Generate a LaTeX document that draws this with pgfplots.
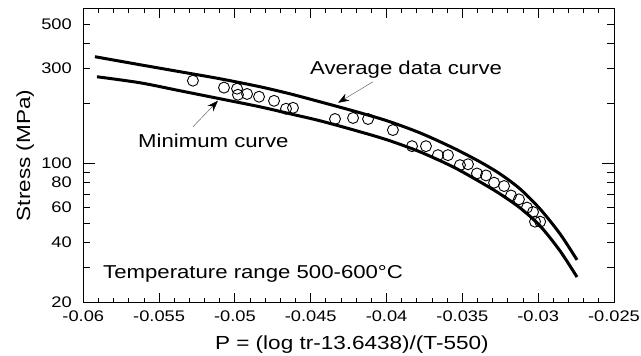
\documentclass[border=0pt]{standalone}
\usepackage{fontspec}
\setmainfont{Liberation Sans}[FakeStretch=1.19]
\usepackage{pgfplots}
\pgfplotsset{compat=1.18}
\usetikzlibrary{arrows.meta}
\begin{document}
\begin{tikzpicture}
\begin{axis}[
  scale only axis,
  width=530.7bp, height=294.4bp,
  xmin=-0.06, xmax=-0.025,
  ymode=log, ymin=20, ymax=600,
  clip=false,
  unbounded coords=jump,
  scaled x ticks=false,
  xtick={-0.06,-0.055,-0.05,-0.045,-0.04,-0.035,-0.03,-0.025},
  xticklabels={-0.06,-0.055,-0.05,-0.045,-0.04,-0.035,-0.03,-0.025},
  ytick={20,40,60,80,100,300,500},
  yticklabels={20,40,60,80,100,300,500},
  major tick length=0pt, minor tick length=0pt,
  tick style={draw=none},
  axis line style={line width=0.9bp},
  tick label style={font=\fontsize{15.4}{18}\selectfont},
  xticklabel style={yshift=-5bp},
  yticklabel style={xshift=-8bp},
  xlabel={P = (log tr-13.6438)/(T-550)},
  ylabel={Stress (MPa)},
  every axis x label/.style={at={(axis description cs:0.506,-0.1573)}, anchor=base, font=\fontsize{19}{22}\selectfont},
  every axis y label/.style={at={(axis description cs:-0.1004,0.5)}, rotate=90, anchor=base, font=\fontsize{19}{22}\selectfont},
]
% tick marks drawn as short segments, inside, on all four sides
\addplot[black, line width=0.9bp, forget plot] coordinates {
(-0.06,20) (-0.06,22.27) (-0.06,nan) (-0.055,20) (-0.055,22.27) (-0.055,nan)
(-0.05,20) (-0.05,22.27) (-0.05,nan) (-0.045,20) (-0.045,22.27) (-0.045,nan)
(-0.04,20) (-0.04,22.27) (-0.04,nan) (-0.035,20) (-0.035,22.27) (-0.035,nan)
(-0.03,20) (-0.03,22.27) (-0.03,nan) (-0.025,20) (-0.025,22.27) (-0.025,nan)
(-0.06,600) (-0.06,538.8) (-0.06,nan) (-0.055,600) (-0.055,538.8) (-0.055,nan)
(-0.05,600) (-0.05,538.8) (-0.05,nan) (-0.045,600) (-0.045,538.8) (-0.045,nan)
(-0.04,600) (-0.04,538.8) (-0.04,nan) (-0.035,600) (-0.035,538.8) (-0.035,nan)
(-0.03,600) (-0.03,538.8) (-0.03,nan) (-0.025,600) (-0.025,538.8)};
\addplot[black, line width=0.9bp, forget plot] coordinates {
(-0.059,20) (-0.059,21.07) (-0.059,nan) (-0.058,20) (-0.058,21.07) (-0.058,nan)
(-0.057,20) (-0.057,21.07) (-0.057,nan) (-0.056,20) (-0.056,21.07) (-0.056,nan)
(-0.054,20) (-0.054,21.07) (-0.054,nan) (-0.053,20) (-0.053,21.07) (-0.053,nan)
(-0.052,20) (-0.052,21.07) (-0.052,nan) (-0.051,20) (-0.051,21.07) (-0.051,nan)
(-0.049,20) (-0.049,21.07) (-0.049,nan) (-0.048,20) (-0.048,21.07) (-0.048,nan)
(-0.047,20) (-0.047,21.07) (-0.047,nan) (-0.046,20) (-0.046,21.07) (-0.046,nan)
(-0.044,20) (-0.044,21.07) (-0.044,nan) (-0.043,20) (-0.043,21.07) (-0.043,nan)
(-0.042,20) (-0.042,21.07) (-0.042,nan) (-0.041,20) (-0.041,21.07) (-0.041,nan)
(-0.039,20) (-0.039,21.07) (-0.039,nan) (-0.038,20) (-0.038,21.07) (-0.038,nan)
(-0.037,20) (-0.037,21.07) (-0.037,nan) (-0.036,20) (-0.036,21.07) (-0.036,nan)
(-0.034,20) (-0.034,21.07) (-0.034,nan) (-0.033,20) (-0.033,21.07) (-0.033,nan)
(-0.032,20) (-0.032,21.07) (-0.032,nan) (-0.031,20) (-0.031,21.07) (-0.031,nan)
(-0.029,20) (-0.029,21.07) (-0.029,nan) (-0.028,20) (-0.028,21.07) (-0.028,nan)
(-0.027,20) (-0.027,21.07) (-0.027,nan) (-0.026,20) (-0.026,21.07) (-0.026,nan)
(-0.059,600) (-0.059,569.6) (-0.059,nan) (-0.058,600) (-0.058,569.6) (-0.058,nan)
(-0.057,600) (-0.057,569.6) (-0.057,nan) (-0.056,600) (-0.056,569.6) (-0.056,nan)
(-0.054,600) (-0.054,569.6) (-0.054,nan) (-0.053,600) (-0.053,569.6) (-0.053,nan)
(-0.052,600) (-0.052,569.6) (-0.052,nan) (-0.051,600) (-0.051,569.6) (-0.051,nan)
(-0.049,600) (-0.049,569.6) (-0.049,nan) (-0.048,600) (-0.048,569.6) (-0.048,nan)
(-0.047,600) (-0.047,569.6) (-0.047,nan) (-0.046,600) (-0.046,569.6) (-0.046,nan)
(-0.044,600) (-0.044,569.6) (-0.044,nan) (-0.043,600) (-0.043,569.6) (-0.043,nan)
(-0.042,600) (-0.042,569.6) (-0.042,nan) (-0.041,600) (-0.041,569.6) (-0.041,nan)
(-0.039,600) (-0.039,569.6) (-0.039,nan) (-0.038,600) (-0.038,569.6) (-0.038,nan)
(-0.037,600) (-0.037,569.6) (-0.037,nan) (-0.036,600) (-0.036,569.6) (-0.036,nan)
(-0.034,600) (-0.034,569.6) (-0.034,nan) (-0.033,600) (-0.033,569.6) (-0.033,nan)
(-0.032,600) (-0.032,569.6) (-0.032,nan) (-0.031,600) (-0.031,569.6) (-0.031,nan)
(-0.029,600) (-0.029,569.6) (-0.029,nan) (-0.028,600) (-0.028,569.6) (-0.028,nan)
(-0.027,600) (-0.027,569.6) (-0.027,nan) (-0.026,600) (-0.026,569.6)};
\addplot[black, line width=0.9bp, forget plot] coordinates {
(-0.06,20) (-0.059538,20) (nan,20) (-0.06,30) (-0.059538,30) (nan,30)
(-0.06,40) (-0.059538,40) (nan,40) (-0.06,50) (-0.059538,50) (nan,50)
(-0.06,60) (-0.059538,60) (nan,60) (-0.06,70) (-0.059538,70) (nan,70)
(-0.06,80) (-0.059538,80) (nan,80) (-0.06,90) (-0.059538,90) (nan,90)
(-0.06,100) (-0.059209,100) (nan,100)
(-0.06,200) (-0.059538,200) (nan,200) (-0.06,300) (-0.059538,300) (nan,300)
(-0.06,400) (-0.059538,400) (nan,400) (-0.06,500) (-0.059538,500) (nan,500)
(-0.025,20) (-0.025462,20) (nan,20) (-0.025,30) (-0.025462,30) (nan,30)
(-0.025,40) (-0.025462,40) (nan,40) (-0.025,50) (-0.025462,50) (nan,50)
(-0.025,60) (-0.025462,60) (nan,60) (-0.025,70) (-0.025462,70) (nan,70)
(-0.025,80) (-0.025462,80) (nan,80) (-0.025,90) (-0.025462,90) (nan,90)
(-0.025,100) (-0.025791,100) (nan,100)
(-0.025,200) (-0.025462,200) (nan,200) (-0.025,300) (-0.025462,300) (nan,300)
(-0.025,400) (-0.025462,400) (nan,400) (-0.025,500) (-0.025462,500)};
% Average data curve
\addplot[black, line width=3bp, smooth] coordinates {
(-0.05923,342.9) (-0.05626,312.6) (-0.05362,288.3) (-0.05098,265.8) (-0.04835,242.4)
(-0.04637,223.4) (-0.04439,203.7) (-0.04221,183.6) (-0.03997,163.6) (-0.03780,142.3)
(-0.03562,119.7) (-0.03384,101.8) (-0.03252,88.6) (-0.03120,74.5) (-0.02988,59.1)
(-0.02856,44.3) (-0.02744,32.8)};
% Minimum curve
\addplot[black, line width=3bp, smooth] coordinates {
(-0.05910,272) (-0.05626,253.8) (-0.05362,231.4) (-0.05098,211) (-0.04835,192.3)
(-0.04637,177.4) (-0.04439,163.6) (-0.04221,147.4) (-0.03997,131.3) (-0.03780,114.3)
(-0.03562,96.1) (-0.03384,80.8) (-0.03252,70.3) (-0.03120,59.8) (-0.02988,48.6)
(-0.02856,36.4) (-0.02744,26.9)};
% Data
\addplot[only marks, mark=o, mark size=5.5bp, mark options={line width=0.9bp, black}] coordinates {
(-0.05277,260) (-0.05072,240) (-0.04986,237) (-0.04980,221) (-0.04920,223)
(-0.04841,216) (-0.04742,206) (-0.04663,188) (-0.04617,190) (-0.04340,167)
(-0.04221,169) (-0.04122,167) (-0.03958,147) (-0.03832,122) (-0.03740,122)
(-0.03661,110) (-0.03595,110) (-0.03516,98) (-0.03463,99) (-0.03404,89)
(-0.03344,87) (-0.03291,80) (-0.03225,77) (-0.03179,69) (-0.03127,66)
(-0.03074,60) (-0.03034,57) (-0.03021,51) (-0.02987,51)};
\coordinate (O) at (rel axis cs:0,0);
\draw[line width=0.5bp, black!60, -{Stealth[length=11bp,width=8bp,black]}] (axis cs:-0.04089,256.8) -- (axis cs:-0.04320,201.4);
\draw[line width=0.5bp, black!60, -{Stealth[length=11bp,width=8bp,black]}] (axis cs:-0.05277,152.6) -- (axis cs:-0.05112,206.2);
\node[anchor=base west, inner sep=0, font=\fontsize{18.7}{22}\selectfont] at (axis cs:-0.04505,278.4) {Average data curve};
\node[anchor=base west, inner sep=0, font=\fontsize{18.7}{22}\selectfont] at (axis cs:-0.05639,119.7) {Minimum curve};
\node[anchor=base west, inner sep=0, font=\fontsize{18.7}{22}\selectfont] at (axis cs:-0.05870,26.6) {Temperature range 500-600°C};
\end{axis}
\pgfresetboundingbox
\path (O) ++(-83.3bp,-53.3bp) rectangle ++(641bp,356bp);
\end{tikzpicture}
\end{document}
